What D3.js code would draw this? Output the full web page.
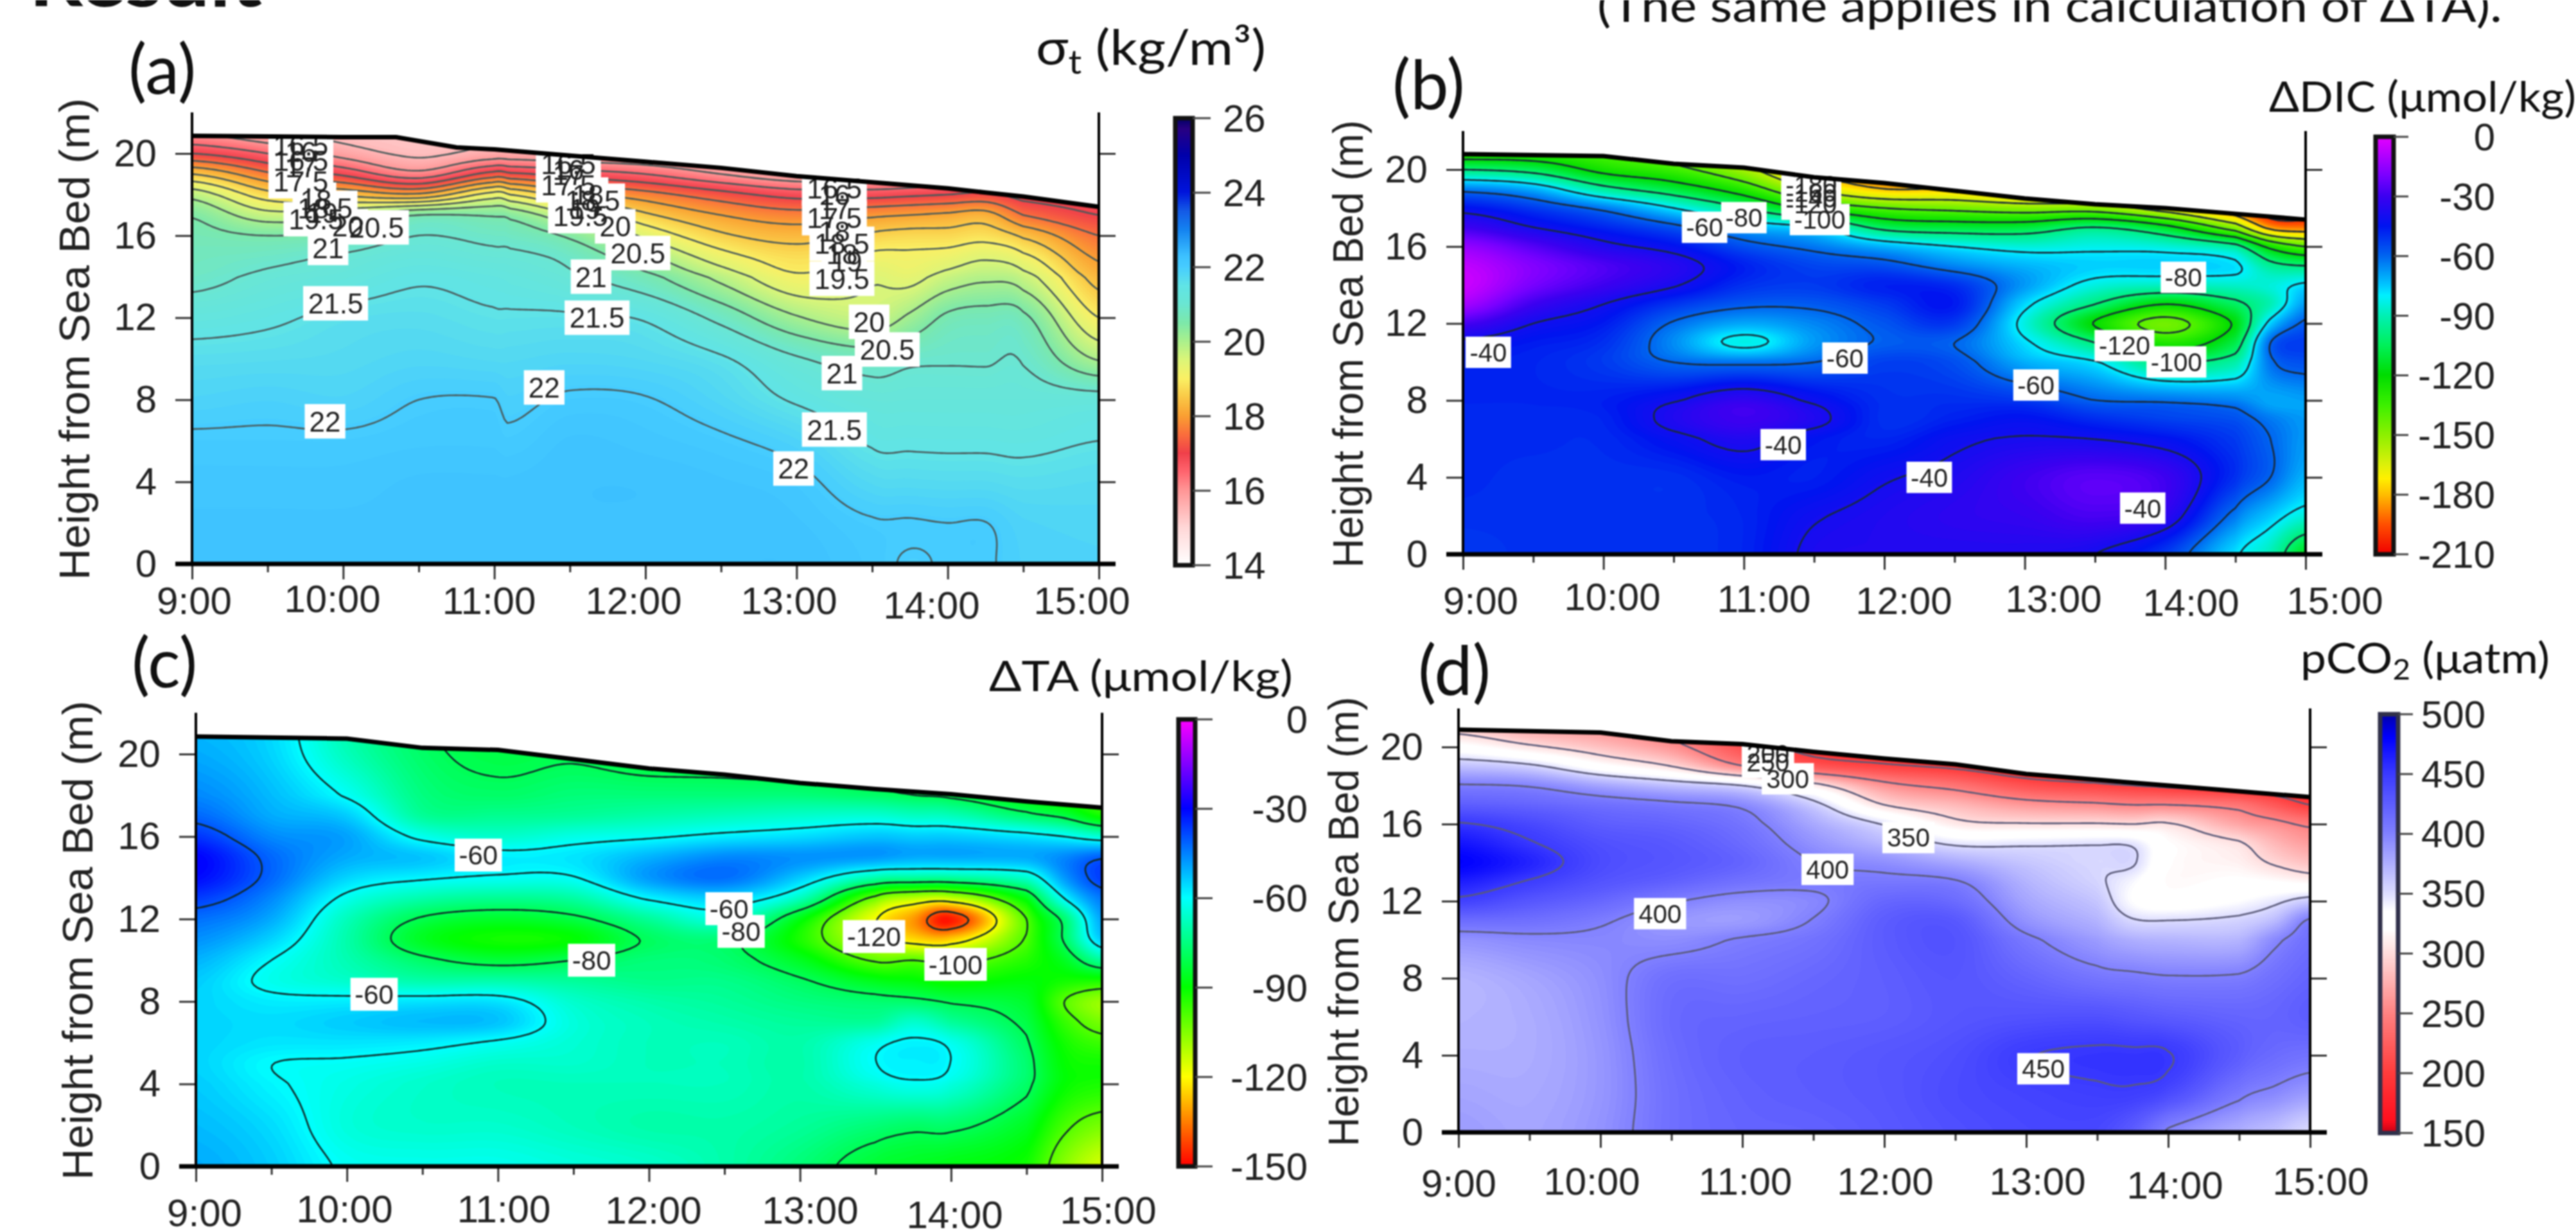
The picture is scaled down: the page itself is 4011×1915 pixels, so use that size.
<!DOCTYPE html>
<html>
<head>
<meta charset="utf-8">
<script src="https://cdn.jsdelivr.net/npm/d3@7"></script>
<style>
  html, body { margin: 0; padding: 0; background: #fff; }
  svg { display: block; filter: blur(1.1px); }
</style>
</head>
<body>
<svg id="chart" width="4011" height="1915"></svg>
<script>
// values, one row per time, in the order of the height list

var hourTicks = [9, 10, 11, 12, 13, 14, 15];
var hourLabels = ["9:00", "10:00", "11:00", "12:00", "13:00", "14:00", "15:00"];
var halfHourTicks = [9.5, 10.5, 11.5, 12.5, 13.5, 14.5];
var heightTicks = [0, 4, 8, 12, 16, 20];

// (a) sigma-t
var sigmaTimes = [9, 9.5, 10, 10.5, 11, 11.1, 11.5, 12, 12.5, 13, 13.5, 13.75, 14, 14.25, 14.5, 15];
var sigmaHeights = [0, 2, 4, 6, 8, 10, 12, 14, 15, 16, 17, 18, 19, 20, 21, 22];
var sigmaValues = [
  [22.2, 22.2, 22.15, 22.05, 21.85, 21.65, 21.3, 20.85, 20.75, 20.65, 20.45, 19.8, 18.5, 17, 16, 15.5],
  [22.2, 22.2, 22.15, 22.05, 21.9, 21.68, 21.42, 21.1, 20.85, 20.5, 19.7, 18.7, 17.6, 16.5, 15.6, 15.2],
  [22.2, 22.2, 22.15, 22.05, 21.85, 21.72, 21.6, 21.25, 21.05, 20.6, 19.9, 18.4, 16.9, 15.8, 15.3, 15.1],
  [22.2, 22.2, 22.2, 22.1, 22, 21.8, 21.65, 21.45, 21.25, 21, 20.5, 18.1, 16.2, 15.4, 15.3, 15.2],
  [22.2, 22.2, 22.2, 22.1, 22.01, 21.75, 21.55, 21.35, 21.12, 20.85, 20.45, 19.2, 17.2, 15.7, 15.5, 15.4],
  [22.2, 22.2, 22.2, 22.06, 21.92, 21.75, 21.55, 21.3, 21.1, 20.8, 20.35, 19, 17.1, 15.7, 15.5, 15.4],
  [22.25, 22.25, 22.25, 22.2, 22.05, 21.8, 21.55, 21.1, 20.85, 20.4, 19.55, 18.2, 16.8, 15.6, 15.4, 15.3],
  [22.25, 22.25, 22.25, 22.15, 22.02, 21.75, 21.45, 20.65, 20.1, 19.4, 18.6, 17.7, 16.5, 15.5, 15.3, 15.2],
  [22.25, 22.25, 22.2, 22.05, 21.8, 21.55, 20.85, 19.85, 19.2, 18.6, 18, 17.2, 16, 15.2, 15, 14.9],
  [22.25, 22.2, 22.1, 21.85, 21.45, 21.05, 20.05, 19.1, 18.75, 18.3, 17.7, 16.8, 15.6, 15, 14.8, 14.7],
  [22.1, 22.03, 21.75, 21.45, 21.2, 20.75, 19.7, 19.45, 19.1, 18.6, 17.9, 16.8, 15.6, 15, 14.8, 14.7],
  [21.97, 22.02, 21.72, 21.43, 21.2, 20.9, 20.1, 19.35, 19.1, 18.7, 18, 16.9, 15.7, 15.1, 14.8, 14.7],
  [22.03, 22, 21.7, 21.42, 21.2, 20.95, 20.6, 19.7, 19.2, 18.7, 18.1, 17, 16, 15.5, 15, 14.7],
  [22.03, 22.005, 21.7, 21.42, 21.2, 20.95, 20.7, 19.9, 19.4, 18.8, 18.2, 17.1, 16.2, 15.6, 15, 14.7],
  [21.9, 21.85, 21.65, 21.4, 21.2, 20.95, 20.6, 19.7, 19.1, 18.4, 17.5, 16.8, 16.3, 15.8, 15.2, 14.8],
  [21.85, 21.8, 21.7, 21.5, 21.2, 19.95, 19, 18.3, 17.9, 17.5, 17, 16.7, 16.2, 15.8, 15.2, 14.8]
];
var sigmaSurfaceTimes = [9, 10, 10.35, 10.75, 11, 11.5, 12, 12.5, 13, 13.5, 14, 14.25, 14.5, 15];
var sigmaSurface = [20.86, 20.8, 20.8, 20.3, 20.2, 19.9, 19.6, 19.3, 18.9, 18.6, 18.3, 18.1, 17.9, 17.4];
var sigmaLevels = d3.range(14.5, 22.01, 0.5);
var sigmaLabels = [
  [9.72, 20.4, "16.5"], [9.72, 20.1, "16"], [9.72, 19.65, "16.5"], [9.72, 19.35, "17"], [9.72, 18.65, "17.5"],
  [9.82, 17.75, "18"], [9.88, 17.35, "18.5"], [9.86, 17.1, "19"], [9.82, 16.8, "19.5"], [10.03, 16.45, "20"],
  [10.22, 16.4, "20.5"], [9.9, 15.4, "21"], [9.95, 12.7, "21.5"], [9.88, 6.95, "22"], [11.33, 8.6, "22"],
  [11.49, 19.5, "16.5"], [11.49, 19.2, "16"], [11.49, 18.95, "17"], [11.49, 18.45, "17.5"], [11.62, 18, "18"],
  [11.65, 17.7, "18.5"], [11.6, 17.3, "19"], [11.57, 16.95, "19.5"], [11.8, 16.45, "20"], [11.95, 15.15, "20.5"],
  [11.64, 14, "21"], [11.68, 12, "21.5"],
  [13.25, 18.3, "16.5"], [13.25, 18, "16"], [13.25, 17.3, "17"], [13.25, 16.85, "17.5"], [13.25, 16.2, "18"],
  [13.3, 15.6, "18.5"], [13.3, 15.1, "18"], [13.33, 14.75, "19"], [13.3, 13.9, "19.5"], [13.48, 11.8, "20"],
  [13.6, 10.45, "20.5"], [13.3, 9.3, "21"], [13.25, 6.55, "21.5"], [12.98, 4.65, "22"]
];

// (b) delta DIC
var dicTimes = [9, 9.5, 10, 10.5, 11, 11.5, 12, 12.5, 13, 13.5, 14, 14.5, 14.75, 15];
var dicHeights = [0, 2, 4, 6, 7, 8, 10, 11, 12, 13, 14, 15, 16, 17, 18, 19, 20, 21, 22];
var dicValues = [
  [-52, -50, -49, -49, -49, -48, -47, -42, -28, -12, -5, -7, -15, -30, -44, -64, -100, -135, -150],
  [-50, -50, -50, -49, -49, -48, -48, -46, -40, -30, -20, -18, -26, -40, -52, -72, -106, -135, -150],
  [-50, -50, -50, -49, -48, -47, -52, -50, -46, -40, -30, -27, -37, -48, -63, -95, -125, -140, -155],
  [-50, -50, -50, -43, -37, -41, -60, -66, -61, -51, -39, -35, -44, -57, -80, -110, -135, -150, -165],
  [-48, -48, -46, -37, -30, -33, -62, -83, -70, -58, -50, -47, -56, -71, -100, -130, -155, -170, -185],
  [-38, -41, -47, -45, -37, -42, -60, -68, -65, -58, -52, -54, -63, -80, -125, -162, -185, -195, -205],
  [-37, -37, -41, -48, -50, -50, -53, -59, -57, -52, -47, -56, -72, -105, -140, -180, -195, -205, -210],
  [-37, -34, -37, -42, -47, -50, -56, -60, -52, -46, -50, -65, -80, -110, -145, -180, -205, -210, -210],
  [-37, -32, -30, -39, -44, -52, -71, -78, -84, -77, -68, -72, -85, -110, -150, -190, -205, -210, -210],
  [-40, -28, -25, -40, -49, -60, -79, -100, -121, -100, -84, -76, -83, -100, -150, -195, -205, -210, -210],
  [-52, -34, -30, -44, -53, -62, -100, -128, -145, -120, -88, -76, -85, -115, -170, -205, -210, -210, -210],
  [-78, -63, -50, -52, -56, -65, -92, -108, -118, -104, -87, -78, -95, -150, -195, -210, -210, -210, -210],
  [-90, -75, -60, -60, -63, -70, -62, -60, -76, -90, -85, -95, -125, -185, -210, -210, -210, -210, -210],
  [-115, -85, -72, -68, -68, -69, -56, -52, -58, -68, -78, -100, -140, -190, -210, -210, -210, -210, -210]
];
var dicSurfaceTimes = [9, 10, 10.5, 11, 11.5, 12, 12.5, 13, 13.5, 14, 14.5, 15];
var dicSurface = [20.8, 20.7, 20.3, 20.1, 19.6, 19.3, 18.9, 18.5, 18.2, 18, 17.7, 17.4];
var dicLevels = d3.range(-200, -39, 20);
var dicLabels = [
  [10.72, 17, "-60"], [11, 17.5, "-80"], [11.48, 19.2, "-180"], [11.48, 18.8, "-160"], [11.48, 18.5, "-140"],
  [11.48, 18.2, "-120"], [11.54, 17.4, "-100"], [9.18, 10.5, "-40"], [11.72, 10.2, "-60"], [11.28, 5.7, "-40"],
  [12.32, 4, "-40"], [13.84, 2.4, "-40"], [13.08, 8.8, "-60"], [13.71, 10.85, "-120"], [14.08, 10, "-100"],
  [14.13, 14.4, "-80"]
];

// (c) delta TA
var taTimes = [9, 9.5, 10, 10.5, 11, 11.5, 12, 12.5, 13, 13.5, 13.75, 14, 14.5, 14.75, 15];
var taHeights = [0, 2, 4, 5, 6, 7, 8, 9, 10, 11, 12, 13, 14, 15, 16, 17, 18, 20, 22];
var taValues = [
  [-50, -52, -54, -55, -55, -55, -55, -54, -51, -47, -43, -37, -31, -30, -36, -42, -46, -50, -52],
  [-54, -56, -59, -59.9, -57, -56, -58, -62, -60, -55, -50, -46, -42, -42, -46, -50, -52, -55, -56],
  [-61, -64, -63, -61, -57, -54, -58, -66, -69, -70, -68, -62, -55, -50, -49, -54, -61, -68, -70],
  [-62, -66, -66, -63, -58, -52, -57, -70, -78, -86, -81, -70, -59, -53, -62, -72, -75, -78, -80],
  [-62, -66, -68, -66, -61, -53, -57, -70, -83, -92, -85, -73, -61, -58, -66, -73, -78, -82, -83],
  [-64, -68, -68, -66, -65, -64, -66, -72, -80, -90, -82, -71, -60.5, -57, -63, -72, -76, -81, -83],
  [-66, -70, -68, -68, -68, -68, -70, -74, -76, -79, -72, -59, -48, -51, -61, -70, -76, -84, -85],
  [-70, -70, -68, -68, -68, -70, -72, -74, -77, -77, -65, -55, -43, -46, -58, -68, -76, -85, -88],
  [-76, -72, -70, -70, -70, -72, -75, -79, -86, -93, -88, -68, -54, -47, -56, -66, -76, -88, -92],
  [-84, -76, -64, -60.2, -62, -72, -77, -87, -101, -115, -119, -103, -70, -48, -53, -65, -78, -90, -95],
  [-86, -78, -61.5, -58.5, -58.8, -66, -78, -89, -100, -124, -132, -112, -72, -50, -54, -67, -80, -92, -97],
  [-88, -78, -64, -60.2, -62, -72, -81, -92, -103, -125, -147, -113, -72, -50, -54, -68, -82, -95, -100],
  [-92, -86, -78, -77, -79, -82, -85, -89, -94, -99, -100, -88, -66, -50, -57, -77, -90, -98, -100],
  [-106, -98, -90, -90, -92, -96, -100, -92, -86, -79, -77, -60, -48, -46, -60, -82, -95, -100, -102],
  [-115, -104, -93, -92, -97, -104, -108, -93, -72, -54, -49, -44, -37, -41, -65, -92, -100, -105, -105]
];
var taSurfaceTimes = [9, 10, 10.5, 11, 11.5, 12, 12.5, 13, 13.5, 14, 14.5, 15];
var taSurface = [20.85, 20.75, 20.3, 20.2, 19.75, 19.3, 19, 18.6, 18.3, 18.05, 17.7, 17.4];
var taLevels = d3.range(-140, -39, 20);
var taLabels = [
  [10.87, 15.1, "-60"], [12.53, 12.5, "-60"], [12.61, 11.4, "-80"], [11.62, 10, "-80"], [10.18, 8.35, "-60"],
  [13.49, 11.15, "-120"], [14.03, 9.8, "-100"]
];

// (d) pCO2
var co2Times = [9, 9.5, 10, 10.5, 11, 11.5, 12, 12.5, 13, 13.5, 13.75, 14, 14.5, 14.75, 15];
var co2Heights = [0, 2, 4, 6, 8, 10, 11, 12, 13, 14, 15, 16, 17, 18, 19, 20, 21, 22];
var co2Values = [
  [385, 380, 375, 372, 372, 390, 415, 445, 465, 480, 470, 452, 425, 402, 365, 325, 290, 270],
  [380, 378, 376, 376, 380, 395, 412, 430, 448, 462, 452, 440, 420, 398, 355, 305, 270, 255],
  [390, 388, 388, 390, 392, 396, 403, 418, 432, 438, 435, 425, 412, 380, 325, 285, 260, 250],
  [412, 412, 414, 416, 412, 393, 388, 402, 422, 430, 428, 420, 405, 365, 300, 260, 240, 230],
  [420, 422, 424, 420, 412, 402, 385, 392, 410, 420, 415, 408, 395, 350, 252, 215, 200, 190],
  [422, 426, 426, 422, 418, 410, 401, 396, 404, 400, 390, 378, 358, 310, 220, 190, 180, 170],
  [428, 430, 430, 424, 424, 426, 425, 418, 406, 392, 370, 348, 300, 260, 205, 180, 170, 165],
  [435, 438, 436, 430, 430, 432, 428, 415, 402, 378, 346, 308, 280, 240, 195, 175, 165, 160],
  [440, 443, 449, 433, 420, 405, 390, 380, 372, 362, 346, 302, 262, 215, 180, 170, 160, 155],
  [440, 447, 453, 434, 408, 385, 372, 362, 354, 352, 348, 302, 255, 205, 175, 165, 158, 155],
  [425, 447, 453, 430, 405, 375, 352, 335, 338, 352, 346, 300, 250, 200, 172, 165, 158, 155],
  [397, 438, 451, 426, 402, 372, 350, 325, 318, 320, 320, 302, 250, 195, 170, 162, 158, 155],
  [375, 405, 425, 420, 403, 372, 355, 335, 322, 312, 303, 270, 240, 185, 165, 160, 155, 152],
  [365, 395, 415, 420, 412, 395, 368, 345, 320, 297, 280, 258, 220, 180, 165, 160, 155, 152],
  [350, 385, 410, 425, 420, 412, 403, 360, 315, 285, 265, 245, 200, 175, 165, 160, 155, 150]
];
var co2SurfaceTimes = [9, 10, 10.5, 11, 11.5, 12, 12.5, 13, 13.5, 14, 14.5, 15];
var co2Surface = [20.9, 20.75, 20.3, 20.15, 19.75, 19.4, 19.1, 18.6, 18.3, 18, 17.7, 17.4];
var co2Levels = [200, 250, 300, 350, 400, 450];
var co2Labels = [
  [11.18, 19.65, "200"], [11.18, 19.2, "250"], [11.32, 18.35, "300"], [12.17, 15.3, "350"], [11.6, 13.65, "400"],
  [10.42, 11.35, "400"], [13.12, 3.3, "450"]
];

// colour bars
var sigmaBarTicks = [14, 16, 18, 20, 22, 24, 26];
var sigmaStops = [14, 15, 16, 16.5, 17, 17.5, 18, 18.5, 19, 19.5, 20, 20.5, 21, 21.5, 22, 22.3, 23, 23.5, 24, 25, 25.7, 26];
var sigmaColors = ["#ffffff", "#ffd7d7", "#ff9696", "#ff646e", "#f0404a", "#fa6e3c", "#faa032", "#fac846", "#faf064", "#dcf578", "#aaf08c", "#7ce8aa", "#6ae6d2", "#60e4e6", "#46ccff", "#3cc0ff", "#1482f0", "#145ae6", "#0014dc", "#0000aa", "#280082", "#000064"];

var dicBarTicks = [0, -30, -60, -90, -120, -150, -180, -210];
var dicStops = [-210, -195, -180, -172, -165, -150, -135, -120, -105, -90, -80, -75, -60, -45, -30, -20, 0];
var dicColors = ["#f00000", "#ff5000", "#ffbe00", "#fff000", "#dcf00a", "#8cf000", "#3cf000", "#00dc00", "#00f05a", "#00f0b4", "#00f0ff", "#00c8ff", "#0064f0", "#0014f0", "#3c00f0", "#7800ff", "#e600ff"];

var taBarTicks = [0, -30, -60, -90, -120, -150];
var taStops = [-150, -135, -120, -105, -90, -75, -60, -45, -30, -15, 0];
var taColors = ["#ff0000", "#ff8000", "#ffff00", "#80ff00", "#00ff00", "#00ff80", "#00ffff", "#0080ff", "#0000ff", "#8200ff", "#ff00ff"];

var co2BarTicks = [150, 200, 250, 300, 350, 400, 450, 500];
var co2Stops = [150, 160, 200, 250, 300, 320, 335, 350, 400, 450, 480, 500];
var co2Colors = ["#c80014", "#ff0f1e", "#ff3c3c", "#ff8282", "#ffdcdc", "#ffffff", "#ffffff", "#dcdcff", "#8080ff", "#3a3aff", "#0000ff", "#0000aa"];

// where things sit on the page
var layouts = [
  { values: sigmaValues, times: sigmaTimes, heights: sigmaHeights, surfaceTimes: sigmaSurfaceTimes, surface: sigmaSurface,
    levels: sigmaLevels, labels: sigmaLabels, stops: sigmaStops, colors: sigmaColors, barTicks: sigmaBarTicks,
    left: 299, right: 1711, y0: 878, y20: 239, lineColor: "#4a5a5a", labelFont: 44, letter: "(a)", letterX: 200, letterY: 146,
    bar: [1830, 1857, 184, 880], barLabelX: 1904, barAnchor: "start", barTick: 1885,
    labelX: [302, 517, 761, 986, 1228, 1450, 1684], labelY: [956, 953, 956, 956, 956, 963, 956],
    titleY: [139, 153, 903] },
  { values: dicValues, times: dicTimes, heights: dicHeights, surfaceTimes: dicSurfaceTimes, surface: dicSurface,
    levels: dicLevels, labels: dicLabels, stops: dicStops, colors: dicColors, barTicks: dicBarTicks,
    left: 2278, right: 3590, y0: 863, y20: 264, lineColor: "#1a2a3a", labelFont: 40, letter: "(b)", letterX: 2168, letterY: 170,
    bar: [3699, 3727, 213, 863], barLabelX: 3885, barAnchor: "end", barTick: 3750,
    labelX: [2305, 2510, 2746, 2964, 3197, 3411, 3635], labelY: [956, 950, 953, 956, 953, 959, 956],
    titleY: [2122, 187, 884] },
  { values: taValues, times: taTimes, heights: taHeights, surfaceTimes: taSurfaceTimes, surface: taSurface,
    levels: taLevels, labels: taLabels, stops: taStops, colors: taColors, barTicks: taBarTicks,
    left: 305, right: 1716, y0: 1816, y20: 1174, lineColor: "#102a2a", labelFont: 42, letter: "(c)", letterX: 205, letterY: 1070,
    bar: [1835, 1861, 1120, 1816], barLabelX: 2036, barAnchor: "end", barTick: 1888,
    labelX: [318, 536, 784, 1017, 1261, 1486, 1725], labelY: [1909, 1903, 1903, 1905, 1905, 1912, 1905],
    titleY: [144, 1091, 1837] },
  { values: co2Values, times: co2Times, heights: co2Heights, surfaceTimes: co2SurfaceTimes, surface: co2Surface,
    levels: co2Levels, labels: co2Labels, stops: co2Stops, colors: co2Colors, barTicks: co2BarTicks,
    left: 2271, right: 3597, y0: 1763, y20: 1163, lineColor: "#5a5a78", labelFont: 40, letter: "(d)", letterX: 2208, letterY: 1082,
    bar: [3706, 3734, 1112, 1764], barLabelX: 3770, barAnchor: "start", barTick: 3757,
    labelX: [2271, 2478, 2717, 2935, 3172, 3386, 3613], labelY: [1863, 1860, 1860, 1860, 1860, 1866, 1860],
    titleY: [2115, 1085, 1785] }
];

var svg = d3.select("#chart");
var sansFont = "'Liberation Sans', Arial, sans-serif";
var noteFont = "Lato, 'Open Sans', sans-serif";

function cubic(a, b, c, d, u) {
  return b + 0.5 * u * (c - a + u * (2 * a - 5 * b + 4 * c - d + u * (3 * (b - c) + d - a)));
}

// smooth the read grid onto a fine one so the contours come out round
function fineGrid(p, nx, ny) {
  var tIndex = d3.scaleLinear().domain(p.times).range(d3.range(p.times.length)).clamp(true);
  var hIndex = d3.scaleLinear().domain(p.heights).range(d3.range(p.heights.length)).clamp(true);
  var lastT = p.times.length - 1, lastH = p.heights.length - 1;
  var out = new Float64Array(nx * ny);
  function at(i, j) {
    return p.values[Math.max(0, Math.min(lastT, i))][Math.max(0, Math.min(lastH, j))];
  }
  for (var row = 0; row < ny; row++) {
    var fj = hIndex(row / (ny - 1) * 22), j = Math.min(Math.floor(fj), lastH - 1), v = fj - j;
    for (var col = 0; col < nx; col++) {
      var fi = tIndex(9 + col / (nx - 1) * 6), i = Math.min(Math.floor(fi), lastT - 1), u = fi - i;
      var c = [];
      for (var k = -1; k <= 2; k++) {
        c.push(cubic(at(i - 1, j + k), at(i, j + k), at(i + 1, j + k), at(i + 2, j + k), u));
      }
      out[row * nx + col] = cubic(c[0], c[1], c[2], c[3], v);
    }
  }
  return out;
}

layouts.forEach(function (p, n) {
  var x = d3.scaleLinear().domain([9, 15]).range([p.left, p.right]);
  var y = d3.scaleLinear().domain([0, 20]).range([p.y0, p.y20]);
  var color = d3.scaleLinear().domain(p.stops).range(p.colors).clamp(true);
  var nx = 300, ny = 176;
  var grid = fineGrid(p, nx, ny);

  var toPage = d3.geoTransform({
    point: function (gx, gy) {
      this.stream.point(x(9 + (gx - 0.5) / (nx - 1) * 6), y((gy - 0.5) / (ny - 1) * 22));
    }
  });
  var path = d3.geoPath(toPage);
  var contours = d3.contours().size([nx, ny]);

  var low = p.stops[0], high = p.stops[p.stops.length - 1];
  var bands = d3.range(low, high, (high - low) / 170);

  var clipId = "clip" + n;
  var outline = p.surfaceTimes.map(function (t, i) { return [x(t), y(p.surface[i])]; });
  svg.append("clipPath").attr("id", clipId).append("path")
    .attr("d", d3.line()([[x(9), y(0)]].concat(outline, [[x(15), y(0)]])) + "Z");

  var g = svg.append("g").attr("clip-path", "url(#" + clipId + ")");
  g.append("rect").attr("x", x(9)).attr("y", y(22)).attr("width", x(15) - x(9)).attr("height", y(0) - y(22))
    .attr("fill", color(low));
  g.selectAll("path.band")
    .data(contours.thresholds(bands)(grid))
    .enter().append("path")
    .attr("class", "band")
    .attr("d", path)
    .attr("fill", function (d) { return color(d.value + (high - low) / 340); });
  g.selectAll("path.line")
    .data(contours.thresholds(p.levels)(grid))
    .enter().append("path")
    .attr("class", "line")
    .attr("d", path)
    .attr("fill", "none")
    .attr("stroke", p.lineColor)
    .attr("stroke-width", 2.6);

  // white boxes first, the text of all of them over the top, as they overlap
  var boxes = svg.append("g"), texts = svg.append("g");
  p.labels.forEach(function (d) {
    var w = d[2].replace(/[.-]/g, "").length * p.labelFont * 0.56 + (/[.-]/.test(d[2]) ? p.labelFont * 0.3 : 0) + 14;
    var h = p.labelFont * 1.22;
    boxes.append("rect").attr("x", x(d[0]) - w / 2).attr("y", y(d[1]) - h / 2).attr("width", w).attr("height", h).attr("fill", "#fff");
    texts.append("text").attr("x", x(d[0])).attr("y", y(d[1]) + p.labelFont * 0.36).attr("text-anchor", "middle")
      .attr("font-family", sansFont).attr("font-size", p.labelFont).attr("fill", "#222").text(d[2]);
  });

  // surface and bed
  svg.append("path").attr("d", d3.line()(outline)).attr("fill", "none").attr("stroke", "#000").attr("stroke-width", 7);

  // axes
  var bottom = svg.append("g").attr("transform", "translate(0," + y(0) + ")")
    .call(d3.axisBottom(x).tickValues(hourTicks).tickSize(24).tickFormat(function (d, i) { return hourLabels[i]; }));
  bottom.selectAll("text")
    .attr("x", function (d, i) { return p.labelX[i] - x(d); })
    .attr("y", function (d, i) { return p.labelY[i] - y(0); })
    .attr("dy", 0);
  svg.append("g").attr("transform", "translate(0," + y(0) + ")")
    .call(d3.axisBottom(x).tickValues(halfHourTicks).tickSize(13).tickFormat(""));
  svg.append("g").attr("transform", "translate(" + x(9) + ",0)")
    .call(d3.axisLeft(y).tickValues(heightTicks).tickSize(26).tickPadding(29));
  svg.append("g").attr("transform", "translate(" + x(15) + ",0)")
    .call(d3.axisRight(y).tickValues(heightTicks).tickSize(26).tickFormat(""));

  svg.append("line").attr("x1", x(9)).attr("x2", x(9)).attr("y1", y(22)).attr("y2", y(0)).attr("stroke", "#000").attr("stroke-width", 4);
  svg.append("line").attr("x1", x(15)).attr("x2", x(15)).attr("y1", y(22)).attr("y2", y(0)).attr("stroke", "#000").attr("stroke-width", 4);
  svg.append("line").attr("x1", x(9) - 26).attr("x2", x(15) + 26).attr("y1", y(0)).attr("y2", y(0)).attr("stroke", "#000").attr("stroke-width", 7);

  svg.append("text")
    .attr("transform", "translate(" + p.titleY[0] + "," + p.titleY[2] + ") rotate(-90)")
    .attr("textLength", p.titleY[2] - p.titleY[1])
    .attr("lengthAdjust", "spacingAndGlyphs")
    .attr("font-family", sansFont).attr("font-size", 66).attr("fill", "#222")
    .text("Height from Sea Bed (m)");

  svg.append("text").attr("x", p.letterX).attr("y", p.letterY)
    .attr("font-family", noteFont).attr("font-size", 106).attr("fill", "#111").text(p.letter);

  // colour bar
  var barScale = d3.scaleLinear().domain([low, high]).range([p.bar[3], p.bar[2]]);
  var barValues = d3.range(low, high, (high - low) / 200);
  svg.append("g").selectAll("rect")
    .data(barValues)
    .enter().append("rect")
    .attr("x", p.bar[0])
    .attr("width", p.bar[1] - p.bar[0])
    .attr("y", function (d) { return barScale(d) - (p.bar[3] - p.bar[2]) / 200 - 1; })
    .attr("height", (p.bar[3] - p.bar[2]) / 200 + 2)
    .attr("fill", function (d) { return color(d); });
  svg.append("rect").attr("x", p.bar[0]).attr("y", p.bar[2]).attr("width", p.bar[1] - p.bar[0]).attr("height", p.bar[3] - p.bar[2])
    .attr("fill", "none").attr("stroke", n === 3 ? "#30304a" : "#111").attr("stroke-width", 7);
  var barAxis = svg.append("g").selectAll("g").data(p.barTicks).enter().append("g");
  barAxis.append("line")
    .attr("x1", p.bar[1]).attr("x2", p.barTick)
    .attr("y1", barScale).attr("y2", barScale)
    .attr("stroke", "#444").attr("stroke-width", 3);
  barAxis.append("text")
    .attr("x", p.barLabelX)
    .attr("y", function (d) { return barScale(d) + 21; })
    .attr("text-anchor", p.barAnchor)
    .attr("font-family", sansFont).attr("font-size", 60).attr("fill", "#222")
    .text(function (d) { return d; });
});

svg.selectAll(".tick text").attr("font-family", sansFont).attr("font-size", 60).attr("fill", "#222");
svg.selectAll(".tick line").attr("stroke", "#333").attr("stroke-width", 3);
svg.selectAll(".domain").attr("stroke", "none");

// titles of the colour bars and the leftovers of the slide
function note(x, y, size, width, parts) {
  var t = svg.append("text").attr("x", x).attr("y", y).attr("font-family", noteFont).attr("font-size", size).attr("fill", "#111");
  if (width) t.attr("textLength", width).attr("lengthAdjust", "spacingAndGlyphs");
  parts.forEach(function (s) {
    var span = t.append("tspan").text(s.text);
    if (s.dy) span.attr("dy", s.dy);
    if (s.size) span.attr("font-size", s.size);
    if (s.bold) span.attr("font-weight", "bold");
  });
}
note(1613, 101, 76, 358, [{ text: "σ" }, { text: "t", dy: 14, size: 52 }, { text: " (kg/m³)", dy: -14 }]);
note(3533, 174, 66, 478, [{ text: "ΔDIC (μmol/kg)" }]);
note(1540, 1076, 66, 473, [{ text: "ΔTA (μmol/kg)" }]);
note(3582, 1048, 66, 388, [{ text: "pCO" }, { text: "2", dy: 10, size: 44 }, { text: " (μatm)", dy: -10 }]);
note(45, 10, 118, 363, [{ text: "Result", bold: true }]);
note(2487, 34, 72, 1409, [{ text: "(The same applies in calculation of  ΔTA)." }]);
</script>
</body>
</html>
